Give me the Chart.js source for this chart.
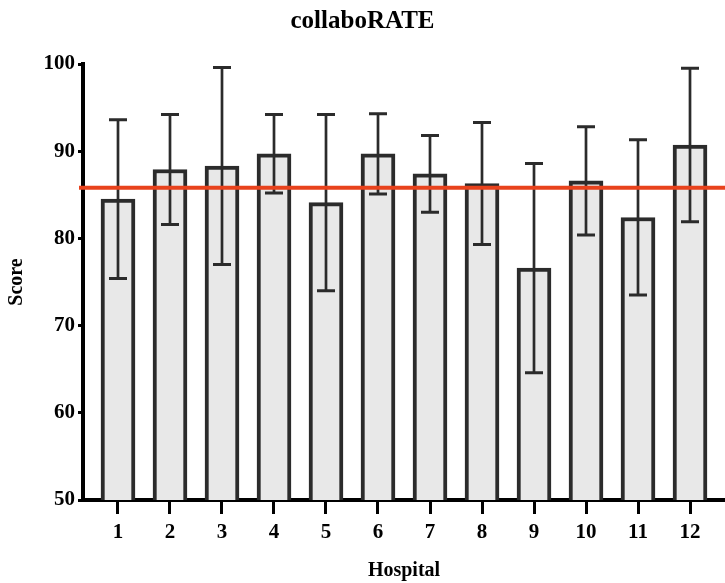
<!DOCTYPE html>
<html>
<head>
<meta charset="utf-8">
<title>collaboRATE</title>
<script src="https://cdn.jsdelivr.net/npm/chart.js@4/dist/chart.umd.min.js"></script>
<style>
  html, body { margin: 0; padding: 0; background: #ffffff; }
  #wrap { width: 725px; height: 583px; }
</style>
</head>
<body>
<div id="wrap"><canvas id="chart" width="725" height="583"></canvas></div>
<script>
// Hospitals on the x axis
const hospitals = [1, 2, 3, 4, 5, 6, 7, 8, 9, 10, 11, 12];
// Mean collaboRATE score per hospital
const meanScores = [84.5, 87.9, 88.3, 89.7, 84.1, 89.7, 87.4, 86.3, 76.6, 86.6, 82.4, 90.7];
// Standard deviation per hospital (error bars)
const sdScores = [9.1, 6.3, 11.3, 4.5, 10.1, 4.6, 4.4, 7.0, 12.0, 6.2, 8.9, 8.8];
// Overall mean across all hospitals (reference line)
const overallMean = 85.8;
// Score axis ticks
const yTicks = [50, 60, 70, 80, 90, 100];

const FONT = '"Liberation Serif", "Times New Roman", serif';
Chart.defaults.font.family = FONT;
Chart.defaults.font.weight = 'bold';
Chart.defaults.color = '#000000';

// Mean ± SD whiskers with caps
const errorBars = {
  id: 'errorBars',
  afterDatasetsDraw(chart) {
    const { ctx } = chart;
    const xs = chart.scales.x, ys = chart.scales.y;
    const cap = 9;
    ctx.save();
    ctx.strokeStyle = '#2b2b2b';
    ctx.lineCap = 'butt';
    hospitals.forEach((h, i) => {
      const x = xs.getPixelForValue(h);
      const top = ys.getPixelForValue(meanScores[i] + sdScores[i]);
      const bot = ys.getPixelForValue(meanScores[i] - sdScores[i]);
      ctx.lineWidth = 2.7;
      ctx.beginPath();
      ctx.moveTo(x, top);
      ctx.lineTo(x, bot);
      ctx.stroke();
      ctx.lineWidth = 3;
      ctx.beginPath();
      ctx.moveTo(x - cap, top);
      ctx.lineTo(x + cap, top);
      ctx.moveTo(x - cap, bot);
      ctx.lineTo(x + cap, bot);
      ctx.stroke();
    });
    ctx.restore();
  }
};

// Horizontal line at the overall mean
const meanLine = {
  id: 'meanLine',
  afterDraw(chart) {
    const { ctx, chartArea } = chart;
    const y = chart.scales.y.getPixelForValue(overallMean);
    ctx.save();
    ctx.strokeStyle = '#e8421c';
    ctx.lineWidth = 4;
    ctx.beginPath();
    ctx.moveTo(chartArea.left - 4, y);
    ctx.lineTo(chartArea.right, y);
    ctx.stroke();
    ctx.restore();
  }
};

new Chart(document.getElementById('chart'), {
  type: 'bar',
  data: {
    datasets: [{
      label: 'Score',
      data: hospitals.map((h, i) => ({ x: h, y: meanScores[i] })),
      backgroundColor: '#e8e8e8',
      borderColor: '#2b2b2b',
      borderWidth: 4,
      borderSkipped: 'start',
      barThickness: 34
    }]
  },
  options: {
    responsive: false,
    animation: false,
    devicePixelRatio: 1,
    layout: { padding: { left: 0, right: 0, top: 0, bottom: 0 } },
    plugins: {
      legend: { display: false },
      tooltip: { enabled: false },
      title: {
        display: true,
        text: 'collaboRATE',
        color: '#000000',
        font: { size: 25, weight: 'bold', family: FONT },
        padding: { top: 7, bottom: 27 }
      }
    },
    scales: {
      x: {
        type: 'linear',
        min: 0.327,
        max: 12.673,
        offset: false,
        z: 1,
        afterFit(s) { s.height = 83; },
        afterBuildTicks(s) { s.ticks = hospitals.map(v => ({ value: v })); },
        ticks: {
          color: '#000000',
          font: { size: 21, weight: 'bold', family: FONT },
          padding: 6,
          maxRotation: 0,
          autoSkip: false
        },
        grid: {
          offset: false,
          drawOnChartArea: false,
          drawTicks: true,
          tickLength: 14,
          tickWidth: 3,
          tickColor: '#000000'
        },
        border: { display: true, color: '#000000', width: 4 },
        title: {
          display: true,
          text: 'Hospital',
          color: '#000000',
          font: { size: 20, weight: 'bold', family: FONT },
          padding: { top: 0, bottom: 0 }
        }
      },
      y: {
        min: 50,
        max: 100,
        z: 1,
        afterFit(s) { s.width = 83; },
        afterBuildTicks(s) { s.ticks = yTicks.map(v => ({ value: v })); },
        ticks: {
          color: '#000000',
          font: { size: 21, weight: 'bold', family: FONT },
          padding: 3
        },
        grid: {
          drawOnChartArea: false,
          drawTicks: true,
          tickLength: 5,
          tickWidth: 3,
          tickColor: '#000000'
        },
        border: { display: true, color: '#000000', width: 4 },
        title: {
          display: true,
          text: 'Score',
          color: '#000000',
          font: { size: 20, weight: 'bold', family: FONT },
          padding: { top: 5, bottom: 0 }
        }
      }
    }
  },
  plugins: [errorBars, meanLine]
});
</script>
</body>
</html>
